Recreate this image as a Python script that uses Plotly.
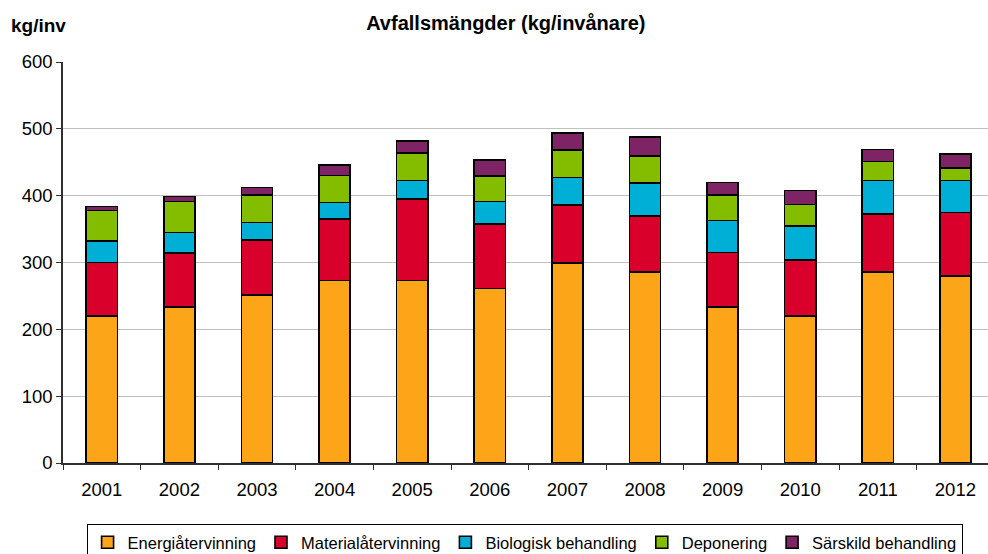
import plotly.graph_objects as go

years = ['2001', '2002', '2003', '2004', '2005', '2006',
         '2007', '2008', '2009', '2010', '2011', '2012']

energi = [220, 233, 251, 273, 273, 261, 299, 286, 233, 220, 286, 280]
material = [80, 81, 83, 92, 122, 97, 87, 84, 82, 84, 87, 95]
biologisk = [32, 31, 26, 25, 28, 33, 41, 49, 48, 51, 50, 48]
deponering = [46, 46, 41, 40, 41, 38, 41, 40, 38, 32, 28, 18]
sarskild = [6, 8, 11, 16, 18, 24, 26, 29, 19, 21, 18, 21]

series = [
    ('Energiåtervinning', energi, '#FCA518'),
    ('Materialåtervinning', material, '#D9002B'),
    ('Biologisk behandling', biologisk, '#00AFD5'),
    ('Deponering', deponering, '#84BD00'),
    ('Särskild behandling', sarskild, '#7E2364'),
]

font = 'Liberation Sans, Arial, sans-serif'

fig = go.Figure()
for name, vals, color in series:
    fig.add_trace(go.Bar(
        name=name,
        x=years,
        y=vals,
        marker_color=color,
        marker_line=dict(color='black', width=1.6),
    ))

fig.update_layout(
    width=988,
    height=554,
    barmode='stack',
    bargap=0.6,
    plot_bgcolor='white',
    paper_bgcolor='white',
    font=dict(family=font, size=18, color='black'),
    margin=dict(l=63, r=0, t=62, b=91, autoexpand=False),
    title=dict(
        text='<b>Avfallsmängder (kg/invånare)</b>',
        x=0.512, xanchor='center', y=0.958, yanchor='middle',
        font=dict(size=20),
    ),
    showlegend=True,
    legend=dict(
        orientation='h',
        x=0.499, xanchor='center',
        y=-0.152, yanchor='top',
        bordercolor='black',
        borderwidth=1,
        font=dict(size=16.5),
        traceorder='normal',
        itemwidth=30,
    ),
    annotations=[dict(
        text='<b>kg/inv</b>', xref='paper', yref='paper',
        x=-0.058, y=1.09, xanchor='left', yanchor='middle',
        showarrow=False, font=dict(size=19),
    )],
)

fig.update_xaxes(
    range=[-0.5, 11.42],
    automargin=False,
    showline=True, linecolor='#303030', linewidth=1.5,
    ticks='outside', tickson='boundaries', ticklen=5, tickcolor='#303030',
    ticklabelstandoff=9,
    showgrid=False,
    tickfont=dict(size=18.5),
)
fig.update_yaxes(
    range=[0, 600],
    dtick=100,
    automargin=False,
    showline=True, linecolor='#303030', linewidth=1.5,
    ticks='outside', ticklen=5, tickcolor='#303030',
    showgrid=True, gridcolor='#C0C0C0', gridwidth=1,
    zeroline=False,
    tickfont=dict(size=18.5),
)

# drop the default page margin so the figure fills the window exactly
fig.write_html('out.html', config={'displayModeBar': False},
               post_script="document.body.style.margin='0';")
